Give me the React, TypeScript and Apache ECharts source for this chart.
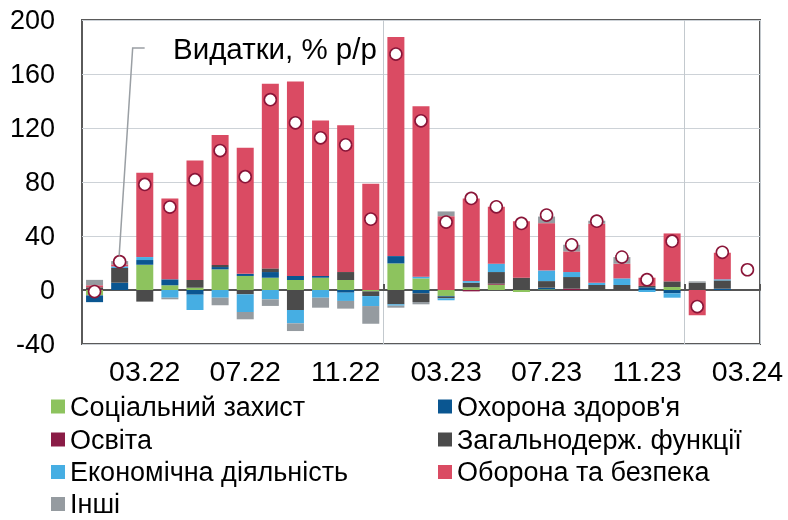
import React, { useEffect, useRef } from "react";
import * as echarts from "echarts";

const months = [
  "01.22", "02.22", "03.22", "04.22", "05.22", "06.22", "07.22", "08.22", "09.22", "10.22", "11.22", "12.22",
  "01.23", "02.23", "03.23", "04.23", "05.23", "06.23", "07.23", "08.23", "09.23", "10.23", "11.23", "12.23",
  "01.24", "02.24", "03.24",
];

const yTicks = { min: -40, max: 200, step: 40 };

const social = [-4, 0, 18.7, 3.5, 1.7, 15.3, 10.4, 9.1, 7.4, 9.1, 7.4, -1, 19.7, 8.6, -4.4, 2.0, 3.9, -1.5, 0.5, 0, 0, 0, 0, 2.2, 0, 0, null];
const health = [-5, 5.4, 3.5, 4.4, -3.5, 1.7, 1.6, 4.2, 3.0, 1.3, -2.0, 0, 5.4, -2.5, -0.6, 0, 0, 0, 1.2, 0, 0, 0, 2.0, -2.5, 0, 1.0, null];
const education = [0.5, 0, 0, 0, 0, 0, 0, 0, 0, 0, 0, 0, 0, 0, 0, -1.0, 0.8, 0, 0, 1.0, 0, 0, 0, 0, 0, 0, null];
const general = [1.5, 10.9, -8.6, 0, 5.7, 1.5, -3.2, 2.7, -14.8, 0, 5.9, -3.5, -10.6, -6.4, -1.2, 3.4, 8.6, 9.1, 4.9, 8.6, 3.7, 3.7, 1.0, 4.2, 5.4, 6.1, null];
const economic = [0, 1.2, 2.2, -5.7, -11.3, -5.7, -13.1, -6.9, -9.9, -5.7, -6.1, -7.4, -1.0, 1.3, -1.4, 1.2, 6.2, 0, 7.9, 3.7, 1.7, 4.9, -1.5, -3.2, 0, 0.8, null];
const defense = [1.5, 1.5, 62.4, 59.9, 88.5, 96.4, 93.4, 136.7, 144.0, 115.1, 108.8, 78.7, 162.3, 126.2, 54.7, 61.2, 42.1, 41.9, 35.0, 15.3, 43.7, 10.9, 6.1, 35.5, -18.7, 19.7, null];
const others = [4, 2.4, 0, -1.2, 0, -5.6, -5.4, -4.9, -5.7, -7.4, -5.7, -13.1, -1.5, -1.7, 3.5, 0, 0, 0, 4.9, 4.9, 2.2, 4.9, 0, 0, 1.0, 0, null];
const totalYoY = [-1.2, 21, 78.2, 61.4, 81.7, 103.3, 83.9, 141.0, 123.8, 112.7, 107.5, 52.5, 174.8, 125.3, 50.3, 67.8, 61.6, 49.3, 55.5, 33.5, 51.0, 24.4, 7.6, 36.2, -12.3, 27.9, 15.0];

const seriesNames = [
  "Соціальний захист",
  "Охорона здоров'я",
  "Освіта",
  "Загальнодерж. функції",
  "Економічна діяльність",
  "Оборона та безпека",
  "Інші",
];
const seriesColors = ["#8DC35E", "#0A5691", "#8A1C46", "#4B4B4B", "#46AEE3", "#DA4B63", "#959BA0"];
const seriesData = [social, health, education, general, economic, defense, others];

// legend grid: [column, row] for each series
const legendSlots = [[0, 0], [1, 0], [0, 1], [1, 1], [0, 2], [1, 2], [0, 3]];

const titleText = "Видатки, % р/р";
const FONT = "'Liberation Sans', Arial, sans-serif";

export default function App() {
  const ref = useRef<HTMLDivElement>(null);
  useEffect(() => {
    if (!ref.current) return;
    const chart = echarts.init(ref.current, null, { renderer: "svg" });
    const bars = seriesNames.map((name, i) => ({
      name,
      type: "bar",
      stack: "total",
      barWidth: 17,
      data: seriesData[i],
      itemStyle: { color: seriesColors[i] },
      xAxisIndex: 0,
      yAxisIndex: 0,
    }));
    const colLeft = [51, 438];
    const rowTop = [393, 426, 458.5, 490.5];
    const legends = seriesNames.map((name, i) => ({
      data: [name],
      orient: "horizontal",
      left: colLeft[legendSlots[i][0]],
      top: rowTop[legendSlots[i][1]],
      padding: 0,
      itemWidth: 14,
      itemHeight: 14,
      icon: "rect",
      selectedMode: false,
      textStyle: { fontSize: 27, lineHeight: 22, color: "#000", fontFamily: FONT },
    }));
    const option: any = {
      animation: false,
      textStyle: { fontFamily: FONT },
      grid: {
        left: 82,
        right: 28,
        top: 20,
        bottom: 176,
        show: true,
        borderColor: "#5A5A5A",
        borderWidth: 2,
        backgroundColor: "transparent",
      },
      legend: legends,
      xAxis: [
        {
          type: "category",
          data: months,
          position: "bottom",
          axisLine: { show: false, onZero: false },
          axisTick: { show: false },
          axisLabel: {
            interval: (i: number) => i % 4 === 2,
            fontSize: 28.5,
            color: "#000",
            margin: 12,
            fontFamily: FONT,
          },
          splitLine: {
            show: true,
            interval: (i: number) => i % 12 === 0 && i > 0,
            lineStyle: { color: "#C3C9CE", width: 1 },
          },
        },
        {
          type: "category",
          data: months,
          position: "bottom",
          axisLine: { show: true, onZero: true, lineStyle: { color: "#555", width: 2 } },
          axisTick: {
            show: true,
            inside: true,
            length: 6,
            interval: (i: number) => i % 12 === 0,
            lineStyle: { color: "#555", width: 2 },
          },
          axisLabel: { show: false },
          splitLine: { show: false },
        },
      ],
      yAxis: {
        type: "value",
        min: yTicks.min,
        max: yTicks.max,
        interval: yTicks.step,
        axisLine: { show: false },
        axisTick: { show: false },
        axisLabel: { fontSize: 27, color: "#000", margin: 27, fontFamily: FONT },
        splitLine: { lineStyle: { color: "#CDD2D7", width: 1 } },
      },
      series: [
        ...bars,
        {
          name: "Видатки",
          type: "scatter",
          data: totalYoY,
          symbol: "circle",
          symbolSize: 12,
          z: 5,
          itemStyle: { color: "#FFFFFF", borderColor: "#8A1538", borderWidth: 1.6, opacity: 1 },
        },
      ],
    };
    chart.setOption(option);
    const pt = chart.convertToPixel({ gridIndex: 0 }, [1, totalYoY[1]]) as number[];
    if (pt) {
      const cx = pt[0];
      const cy = pt[1];
      chart.setOption({
        graphic: [
          {
            type: "polyline",
            z: 10,
            shape: { points: [[cx - 0.5, cy - 6], [cx + 13, 48], [cx + 25, 48]] },
            style: { stroke: "#9A9FA4", lineWidth: 1.5, fill: "none" },
          },
          {
            type: "text",
            z: 10,
            left: 173,
            top: 33,
            style: { text: titleText, fontSize: 29.5, fill: "#000", fontFamily: FONT },
          },
        ],
      });
    }
    return () => chart.dispose();
  }, []);
  return <div ref={ref} style={{ position: "fixed", left: 0, top: 0, width: 788, height: 520 }} />;
}
